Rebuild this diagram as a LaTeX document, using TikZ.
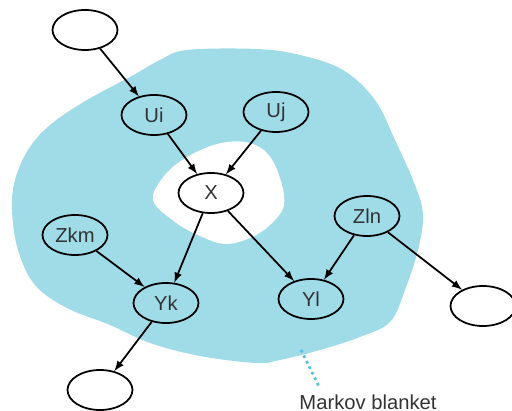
\documentclass[tikz,border=0pt]{standalone}
\usepackage{fontspec}
\setmainfont{Liberation Sans}
\usetikzlibrary{shapes.geometric}

\definecolor{blanket}{RGB}{160,220,232}
\definecolor{blanketdot}{RGB}{80,190,220}
\definecolor{labelgray}{RGB}{50,50,50}

\begin{document}
\begin{tikzpicture}[x=0.02cm,y=-0.02cm,
    var/.style={ellipse,draw,line width=1pt,minimum width=1.3cm,minimum height=0.8cm,
      inner sep=0pt,text=labelgray,font=\fontsize{11.5}{13}\selectfont},
    dep/.style={-latex,line width=1pt}]
  \useasboundingbox (0,0) rectangle (512,411);

    % the blanket with the hole round X
    \fill[blanket] plot[smooth cycle,tension=0.6] coordinates {(187,50) (256,49) (300,55) (343,70) (375,100) (395,140) (415,185) (423,215) (418,250) (405,290) (390,322) (360,337) (320,350) (280,360) (256,363) (200,356) (150,343) (110,325) (67,308) (35,285) (18,250) (12,210) (15,180) (28,150) (50,125) (87,100) (130,77) (160,60)};
    \fill[white] plot[smooth cycle,tension=0.6] coordinates {(153,200) (165,175) (187,157) (217,144) (245,142) (266,152) (279,175) (284,205) (270,225) (250,238) (225,244) (200,236) (175,222)};

    \node[var] (pa) at (85,30) {};
    \node[var] (ui) at (154,115) {Ui};
    \node[var] (uj) at (276,112) {Uj};
    \node[var] (x) at (211,193) {X};
    \node[var] (zkm) at (75,235) {Zkm};
    \node[var] (zln) at (367,216) {Zln};
    \node[var] (yk) at (166,303) {Yk};
    \node[var] (yl) at (311,299) {Yl};
    \node[var] (ck) at (100,390) {};
    \node[var] (cl) at (483,306) {};

    \draw[dep] (pa) -- (ui);
    \draw[dep] (ui) -- (x);
    \draw[dep] (uj) -- (x);
    \draw[dep] (x) -- (yk);
    \draw[dep] (x) -- (yl);
    \draw[dep] (zkm) -- (yk);
    \draw[dep] (zln) -- (yl);
    \draw[dep] (zln) -- (cl);
    \draw[dep] (yk) -- (ck);

    \node[text=labelgray,font=\fontsize{11.5}{13}\selectfont] (mb) at (368,402) {Markov blanket};
    \coordinate (inblanket) at (301,350);
    \draw[blanketdot,line width=1.5pt,dotted] (inblanket) -- (mb.north -| 320,0);

\end{tikzpicture}
\end{document}
